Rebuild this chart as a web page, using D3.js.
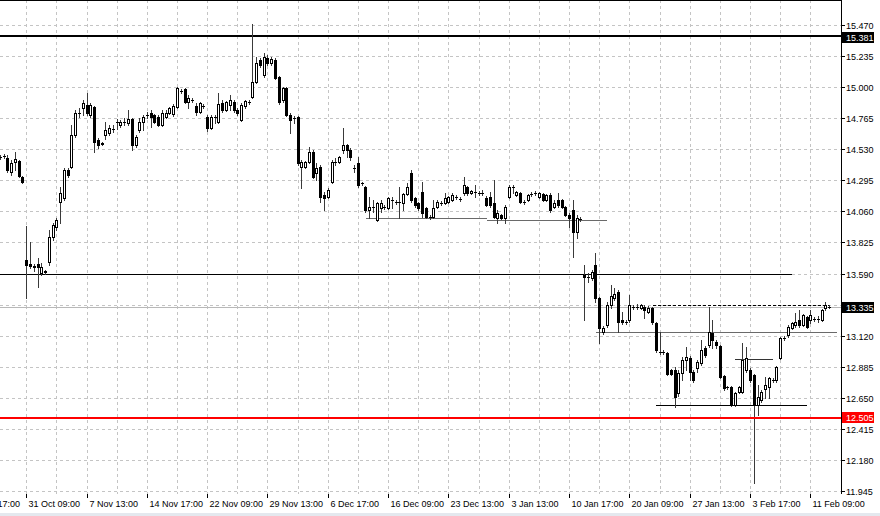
<!DOCTYPE html>
<html><head><meta charset="utf-8">
<script src="https://cdn.jsdelivr.net/npm/d3@7"></script>
<style>
html,body{margin:0;padding:0;background:#fff;overflow:hidden}
svg{display:block}
text{font-family:"Liberation Sans",Arial,sans-serif;font-size:9px}
</style>
</head><body><svg id="c" width="880" height="516"></svg>
<script>
// ---------- data ----------
const opens = [14.471,14.479,14.464,14.358,14.433,14.441,14.320,13.692,13.662,13.647,13.662,13.594,13.601,13.677,13.866,13.942,14.131,14.161,14.373,14.396,14.638,14.804,14.842,14.865,14.789,14.850,14.600,14.577,14.638,14.653,14.683,14.736,14.713,14.736,14.728,14.759,14.562,14.676,14.736,14.789,14.804,14.789,14.774,14.713,14.774,14.804,14.797,14.850,14.971,14.986,14.887,14.903,14.857,14.812,14.857,14.774,14.691,14.774,14.736,14.880,14.827,14.865,14.887,14.827,14.751,14.857,14.887,14.925,15.039,15.205,15.092,15.220,15.182,15.205,15.076,14.903,14.993,14.789,14.766,14.774,14.396,14.396,14.433,14.509,14.350,14.396,14.184,14.169,14.282,14.433,14.433,14.524,14.562,14.524,14.388,14.426,14.275,14.244,14.071,14.093,13.995,14.085,14.093,14.085,14.146,14.131,14.131,14.123,14.191,14.350,14.161,14.123,14.207,14.085,14.017,14.017,14.093,14.123,14.123,14.131,14.146,14.169,14.154,14.199,14.244,14.199,14.207,14.199,14.199,14.161,14.169,14.123,14.010,14.033,14.010,14.169,14.244,14.184,14.199,14.131,14.146,14.191,14.199,14.169,14.191,14.146,14.184,14.093,14.146,14.146,14.093,14.033,14.071,13.904,14.002,13.579,13.564,13.556,13.654,13.405,13.147,13.201,13.352,13.405,13.450,13.238,13.223,13.238,13.336,13.336,13.329,13.336,13.299,13.329,13.215,12.996,12.996,12.989,12.860,12.860,12.686,12.837,12.936,12.951,12.845,12.875,12.913,13.026,13.049,13.140,13.072,13.042,12.815,12.731,12.731,12.595,12.694,12.694,12.860,12.860,12.822,12.595,12.633,12.716,12.731,12.785,12.785,12.951,13.102,13.125,13.178,13.201,13.238,13.201,13.261,13.238,13.246,13.246,13.238,13.329,13.336];
const highs = [14.487,14.494,14.487,14.449,14.509,14.449,14.328,13.949,13.828,13.662,13.707,13.669,13.617,13.919,13.972,14.010,14.244,14.388,14.388,14.713,14.827,14.842,14.903,14.955,14.880,14.857,14.615,14.585,14.736,14.713,14.713,14.759,14.751,14.766,14.827,14.766,14.638,14.766,14.789,14.812,14.827,14.797,14.789,14.827,14.827,14.850,14.872,15.001,14.986,14.993,14.940,14.918,14.880,14.887,14.872,14.789,14.789,14.789,14.955,14.903,14.895,14.940,14.903,14.842,14.880,14.903,14.903,15.480,15.228,15.220,15.258,15.243,15.228,15.220,15.084,15.001,15.001,14.804,14.781,14.781,14.449,14.441,14.547,14.524,14.426,14.411,14.207,14.237,14.449,14.464,14.479,14.691,14.570,14.539,14.411,14.471,14.282,14.252,14.169,14.146,14.131,14.146,14.108,14.169,14.169,14.146,14.244,14.199,14.275,14.373,14.169,14.131,14.282,14.093,14.033,14.146,14.146,14.138,14.199,14.176,14.199,14.184,14.169,14.320,14.252,14.222,14.260,14.214,14.222,14.176,14.207,14.297,14.071,14.040,14.108,14.260,14.260,14.214,14.207,14.146,14.191,14.207,14.214,14.207,14.199,14.191,14.199,14.146,14.199,14.154,14.101,14.048,14.146,14.033,14.017,13.654,13.594,13.617,13.745,13.412,13.193,13.374,13.503,13.480,13.465,13.299,13.238,13.427,13.352,13.359,13.359,13.352,13.344,13.336,13.223,13.147,13.011,12.996,12.868,12.883,12.860,12.958,13.034,12.966,12.860,12.936,13.087,13.042,13.336,13.238,13.087,13.049,12.822,12.739,12.739,12.694,12.739,13.064,13.034,12.875,12.830,12.747,12.709,12.807,12.807,12.799,12.890,13.110,13.117,13.201,13.223,13.291,13.314,13.284,13.268,13.314,13.261,13.268,13.321,13.374,13.352];
const lows = [14.456,14.464,14.358,14.335,14.373,14.320,14.275,13.405,13.632,13.609,13.488,13.579,13.586,13.654,13.844,13.919,13.972,14.146,14.320,14.388,14.623,14.774,14.789,14.789,14.774,14.509,14.539,14.562,14.607,14.638,14.660,14.683,14.698,14.713,14.713,14.524,14.547,14.660,14.676,14.766,14.698,14.728,14.706,14.706,14.766,14.797,14.781,14.842,14.955,14.880,14.842,14.887,14.789,14.804,14.842,14.668,14.683,14.728,14.728,14.812,14.819,14.827,14.812,14.789,14.743,14.842,14.872,14.918,15.031,15.152,15.076,15.167,15.167,15.061,14.872,14.887,14.781,14.653,14.728,14.411,14.237,14.388,14.426,14.312,14.297,14.131,14.071,14.161,14.275,14.411,14.426,14.502,14.471,14.449,14.358,14.244,14.260,14.055,14.010,14.055,13.987,14.055,14.078,14.078,14.085,14.116,14.010,14.071,14.184,14.131,14.093,14.071,14.017,14.010,14.002,14.010,14.085,14.108,14.116,14.123,14.138,14.154,14.138,14.184,14.184,14.191,14.169,14.184,14.184,14.101,14.093,14.010,13.972,14.002,13.972,14.161,14.199,14.176,14.123,14.116,14.138,14.176,14.184,14.161,14.138,14.138,14.055,14.085,14.093,14.085,14.025,13.942,13.715,13.859,13.987,13.238,13.526,13.541,13.374,13.064,13.132,13.185,13.329,13.390,13.147,13.208,13.208,13.223,13.321,13.321,13.321,13.253,13.291,13.208,12.996,12.981,12.981,12.822,12.822,12.580,12.663,12.785,12.860,12.785,12.769,12.845,12.898,12.958,13.034,13.026,13.026,12.799,12.709,12.716,12.588,12.588,12.686,12.686,12.845,12.769,12.005,12.520,12.618,12.648,12.648,12.769,12.769,12.943,13.087,13.110,13.170,13.185,13.185,13.193,13.178,13.215,13.231,13.223,13.231,13.314,13.329];
const closes = [14.471,14.479,14.373,14.426,14.456,14.328,14.282,13.654,13.647,13.643,13.639,13.639,13.609,13.866,13.957,13.995,14.199,14.373,14.335,14.638,14.804,14.804,14.880,14.804,14.865,14.585,14.562,14.570,14.676,14.691,14.683,14.736,14.736,14.736,14.759,14.562,14.623,14.736,14.774,14.789,14.774,14.736,14.713,14.804,14.804,14.842,14.857,14.993,14.971,14.887,14.918,14.903,14.812,14.880,14.857,14.691,14.774,14.774,14.872,14.827,14.887,14.903,14.827,14.804,14.865,14.895,14.887,15.039,15.182,15.167,15.228,15.182,15.213,15.069,14.887,14.993,14.789,14.751,14.766,14.426,14.433,14.433,14.509,14.320,14.388,14.169,14.161,14.222,14.433,14.433,14.471,14.562,14.524,14.471,14.388,14.260,14.275,14.071,14.093,14.093,14.123,14.123,14.093,14.161,14.146,14.131,14.131,14.191,14.244,14.146,14.108,14.085,14.048,14.017,14.017,14.085,14.131,14.123,14.161,14.169,14.184,14.169,14.154,14.260,14.199,14.214,14.207,14.199,14.199,14.108,14.108,14.017,14.048,14.010,14.093,14.244,14.244,14.207,14.131,14.131,14.184,14.191,14.199,14.199,14.146,14.184,14.071,14.123,14.108,14.093,14.033,14.010,13.904,14.010,14.002,13.564,13.564,13.601,13.405,13.178,13.178,13.352,13.420,13.435,13.223,13.223,13.223,13.352,13.336,13.336,13.352,13.314,13.329,13.223,13.011,12.996,12.996,12.830,12.830,12.656,12.837,12.936,12.958,12.845,12.785,12.920,13.011,12.974,13.147,13.087,13.049,12.807,12.724,12.731,12.595,12.686,12.731,12.936,12.951,12.785,12.595,12.656,12.694,12.747,12.799,12.785,12.883,13.102,13.102,13.185,13.215,13.223,13.201,13.276,13.185,13.276,13.246,13.246,13.314,13.352,13.336];

const priceTicks = [15.470,15.235,15.000,14.765,14.530,14.295,14.060,13.825,13.590,13.355,13.120,12.885,12.650,12.415,12.180,11.945];
const timeLabels = ["23 Oct 17:00","31 Oct 09:00","7 Nov 13:00","14 Nov 17:00","22 Nov 09:00","29 Nov 13:00","6 Dec 17:00","16 Dec 09:00","23 Dec 13:00","3 Jan 13:00","10 Jan 17:00","20 Jan 09:00","27 Jan 13:00","3 Feb 17:00","11 Feb 09:00"];
const timeLabelBars = [-9,7,23,39,55,71,87,103,119,135,151,167,183,199,215];
const gridBars = [7,15,23,31,39,47,55,63,71,79,87,95,103,111,119,127,135,143,151,159,167,175,183,191,199,207,215];

const resistancePrice = 15.381;
const supportPrice = 12.505;
const lastPrice = 13.335;
// drawn levels: price, from bar, to bar
const blackLevelPrices = [13.590, 12.596, 12.944];
const blackLevelFrom   = [-12, 174, 195];
const blackLevelTo     = [210, 214, 205];
const grayLevelPrices  = [14.008, 13.997, 13.150];
const grayLevelFrom    = [97, 129, 158];
const grayLevelTo      = [129, 161, 222];
const dashedLevelPrices = [13.352];
const dashedLevelFrom   = [173];
const dashedLevelTo     = [220];

// ---------- layout ----------
const svg = d3.select("#c");
const plotRight = 842, plotBottom = 494;
const x = d3.scaleLinear().domain([0, opens.length - 1]).range([0.3, 829.7]);
const y = d3.scaleLinear().domain([11.945, 15.470]).range([491, 25]);
const px = i => Math.floor(x(i)) + 0.5;
const py = v => Math.round(y(v)) + 0.5;
const fmt = d3.format(".3f");

svg.append("rect").attr("width", 880).attr("height", 516).attr("fill", "#fff");
svg.append("rect").attr("x", 0).attr("y", 513).attr("width", 880).attr("height", 3).attr("fill", "#e4e8ee");

svg.append("defs").append("clipPath").attr("id", "plot")
  .append("rect").attr("x", 0).attr("y", 0).attr("width", plotRight).attr("height", plotBottom);

const g = svg.append("g").attr("clip-path", "url(#plot)").attr("shape-rendering", "crispEdges");

// grid
g.selectAll("line.hg").data(priceTicks).join("line")
  .attr("x1", 0).attr("x2", plotRight).attr("y1", d => py(d)).attr("y2", d => py(d))
  .attr("stroke", "#c4c4c4").attr("stroke-dasharray", "3,3");
g.selectAll("line.vg").data(gridBars).join("line")
  .attr("x1", d => px(d)).attr("x2", d => px(d)).attr("y1", 0).attr("y2", plotBottom)
  .attr("stroke", "#c4c4c4").attr("stroke-dasharray", "3,3");

// last price line
g.append("line").attr("x1", 0).attr("x2", plotRight).attr("y1", py(lastPrice)).attr("y2", py(lastPrice))
  .attr("stroke", "#b8b8b8");

// levels
blackLevelPrices.forEach((p, k) => {
  g.append("line").attr("x1", x(blackLevelFrom[k])).attr("x2", x(blackLevelTo[k]))
    .attr("y1", py(p)).attr("y2", py(p)).attr("stroke", k === 2 ? "#333" : "#000");
});
grayLevelPrices.forEach((p, k) => {
  g.append("line").attr("x1", x(grayLevelFrom[k])).attr("x2", x(grayLevelTo[k]))
    .attr("y1", py(p)).attr("y2", py(p)).attr("stroke", "#6a6a6a").attr("stroke-width", 1.6);
});
dashedLevelPrices.forEach((p, k) => {
  g.append("line").attr("x1", x(dashedLevelFrom[k])).attr("x2", x(dashedLevelTo[k]))
    .attr("y1", py(p)).attr("y2", py(p)).attr("stroke", "#000").attr("stroke-dasharray", "3,2");
});

// resistance line
g.append("line").attr("x1", 0).attr("x2", plotRight)
  .attr("y1", Math.floor(y(resistancePrice))).attr("y2", Math.floor(y(resistancePrice)))
  .attr("stroke", "#000").attr("stroke-width", 2);

// support line (red)
svg.append("rect").attr("x", 0).attr("y", Math.round(y(supportPrice))).attr("width", plotRight - 1).attr("height", 2)
  .attr("fill", "#ff0000").attr("shape-rendering", "crispEdges");

// candles
const idx = d3.range(opens.length);
const cg = g.append("g");
cg.selectAll("line.wick").data(idx).join("line")
  .attr("x1", i => px(i)).attr("x2", i => px(i))
  .attr("y1", i => Math.round(y(highs[i]))).attr("y2", i => Math.round(y(lows[i])) + 1)
  .attr("stroke", "#3a3a3a");
idx.forEach(i => {
  const o = opens[i], c = closes[i];
  const top = Math.round(y(Math.max(o, c))), bot = Math.round(y(Math.min(o, c)));
  const cx = px(i);
  if (bot - top < 1) {
    cg.append("line").attr("x1", cx - 1.5).attr("x2", cx + 1.5).attr("y1", top + 0.5).attr("y2", top + 0.5).attr("stroke", "#000");
  } else if (c > o) {
    cg.append("rect").attr("x", cx - 1).attr("y", top + 0.5).attr("width", 2).attr("height", bot - top)
      .attr("fill", "#fff").attr("stroke", "#000");
  } else {
    cg.append("rect").attr("x", cx - 1.5).attr("y", top).attr("width", 3).attr("height", bot - top + 1)
      .attr("fill", "#000");
  }
});

// frame
const fg = svg.append("g").attr("shape-rendering", "crispEdges");
fg.append("line").attr("x1", 0).attr("x2", plotRight).attr("y1", 0.5).attr("y2", 0.5).attr("stroke", "#000");
fg.append("line").attr("x1", plotRight - 0.5).attr("x2", plotRight - 0.5).attr("y1", 0).attr("y2", plotBottom).attr("stroke", "#000");

// right axis (tick labels hidden where a price box sits on top of them)
const boxed = [resistancePrice, lastPrice, supportPrice];
priceTicks.forEach(v => {
  fg.append("line").attr("x1", plotRight).attr("x2", plotRight + 3).attr("y1", py(v)).attr("y2", py(v)).attr("stroke", "#000");
});
svg.selectAll("text.pt").data(priceTicks.filter(v => boxed.every(b => Math.abs(y(b) - y(v)) > 9))).join("text")
  .attr("x", 846).attr("y", d => py(d) + 3).attr("fill", "#000").text(d => fmt(d));

// price boxes
function priceBox(v, bg) {
  const yy = py(v);
  svg.append("rect").attr("x", plotRight).attr("y", Math.round(y(v)) - 5).attr("width", 32).attr("height", 11)
    .attr("fill", bg).attr("shape-rendering", "crispEdges");
  svg.append("text").attr("x", 846).attr("y", yy + 3).attr("fill", "#fff").text(fmt(v));
}
priceBox(resistancePrice, "#000");
priceBox(lastPrice, "#000");
priceBox(supportPrice, "#ff0000");

// time axis
timeLabelBars.forEach((b, k) => {
  fg.append("line").attr("x1", px(b)).attr("x2", px(b)).attr("y1", plotBottom).attr("y2", plotBottom + 4).attr("stroke", "#000");
  svg.append("text").attr("x", px(b) + 2).attr("y", 507).attr("fill", "#000").text(timeLabels[k]);
});
</script>
</body></html>
